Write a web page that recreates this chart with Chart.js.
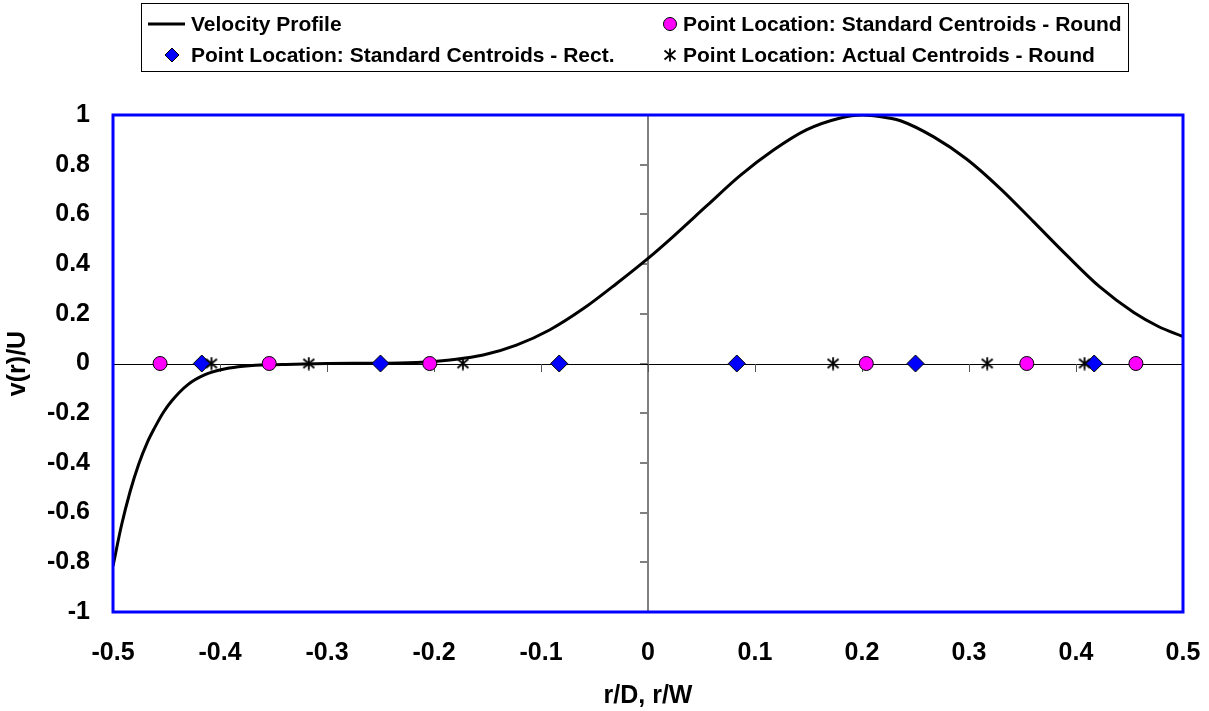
<!DOCTYPE html>
<html>
<head>
<meta charset="utf-8">
<script src="https://cdn.jsdelivr.net/npm/chart.js@4/dist/chart.umd.min.js"></script>
<style>
  html, body { margin: 0; padding: 0; background: #fff; }
  #wrap { width: 1209px; height: 711px; }
</style>
</head>
<body>
<div id="wrap"><canvas id="chart"></canvas></div>
<script>
// velocity profile
const profileR = [-0.5, -0.492, -0.484, -0.476, -0.468, -0.461, -0.453, -0.445, -0.43, -0.414, -0.398, -0.383, -0.367,
  -0.33, -0.3, -0.27, -0.232, -0.2, -0.185, -0.154, -0.123, -0.092, -0.06, -0.029, 0, 0.024, 0.055, 0.086,
  0.117, 0.148, 0.179, 0.2, 0.226, 0.236, 0.267, 0.298, 0.329, 0.36, 0.391, 0.422, 0.454, 0.477, 0.5];
const profileV = [-0.815, -0.65, -0.515, -0.405, -0.318, -0.258, -0.197, -0.15, -0.085, -0.045, -0.024, -0.013, -0.007,
  -0.003, 0, 0.001, 0.002, 0.008, 0.014, 0.034, 0.074, 0.135, 0.222, 0.323, 0.423, 0.513, 0.635, 0.756,
  0.858, 0.94, 0.987, 1.0, 0.987, 0.977, 0.912, 0.822, 0.705, 0.572, 0.437, 0.309, 0.205, 0.149, 0.108];

const stdRoundR = [-0.456, -0.354, -0.204, 0.204, 0.354, 0.456];
const stdRectR = [-0.417, -0.25, -0.083, 0.083, 0.25, 0.417];
const actualRoundR = [-0.408, -0.317, -0.173, 0.173, 0.317, 0.408];
const markerV = [0, 0, 0, 0, 0, 0];

const seriesNames = [
  'Velocity Profile',
  'Point Location: Standard Centroids - Round',
  'Point Location: Standard Centroids - Rect.',
  'Point Location: Actual Centroids - Round'
];

const xTicks = [-0.5, -0.4, -0.3, -0.2, -0.1, 0, 0.1, 0.2, 0.3, 0.4, 0.5];
const xTickLabels = ['-0.5', '-0.4', '-0.3', '-0.2', '-0.1', '0', '0.1', '0.2', '0.3', '0.4', '0.5'];
const yTicks = [-1, -0.8, -0.6, -0.4, -0.2, 0, 0.2, 0.4, 0.6, 0.8, 1];
const yTickLabels = ['-1', '-0.8', '-0.6', '-0.4', '-0.2', '0', '0.2', '0.4', '0.6', '0.8', '1'];

const FONT = '"Liberation Sans", Arial, sans-serif';

const toPts = (xs, ys) => xs.map((v, i) => ({ x: v, y: ys[i] }));

// asterisk marker: an X with a vertical stroke
function makeAsterisk(size) {
  const c = document.createElement('canvas');
  c.width = size; c.height = size;
  const g = c.getContext('2d');
  g.strokeStyle = '#000';
  g.lineWidth = 1.8;
  g.beginPath();
  g.moveTo(1.5, 2.5); g.lineTo(size - 1.5, size - 2.5);
  g.moveTo(size - 1.5, 2.5); g.lineTo(1.5, size - 2.5);
  g.moveTo(size / 2, 0.5); g.lineTo(size / 2, size - 0.5);
  g.stroke();
  return c;
}
const asterisk = makeAsterisk(14);

const decor = {
  id: 'decor',
  beforeDatasetsDraw(chart) {
    const { ctx, chartArea: a, scales: { x, y } } = chart;
    const x0 = Math.round(x.getPixelForValue(0));
    const y0 = Math.round(y.getPixelForValue(0));
    ctx.save();
    // vertical axis through zero
    ctx.strokeStyle = '#7f7f7f';
    ctx.lineWidth = 2;
    ctx.beginPath();
    ctx.moveTo(x0, a.top); ctx.lineTo(x0, a.bottom);
    yTicks.forEach(v => {
      const py = Math.round(y.getPixelForValue(v));
      ctx.moveTo(x0 - 8, py); ctx.lineTo(x0, py);
    });
    ctx.stroke();
    // horizontal axis through zero
    ctx.strokeStyle = '#000';
    ctx.lineWidth = 1;
    ctx.beginPath();
    ctx.moveTo(a.left, y0 + 0.5); ctx.lineTo(a.right, y0 + 0.5);
    ctx.stroke();
    ctx.strokeStyle = '#555';
    ctx.beginPath();
    xTicks.forEach(v => {
      const px = Math.round(x.getPixelForValue(v)) + 0.5;
      ctx.moveTo(px, y0); ctx.lineTo(px, y0 + 8);
    });
    ctx.stroke();
    ctx.restore();
  },
  afterDraw(chart) {
    const { ctx, chartArea: a } = chart;
    ctx.save();
    // blue plot border
    ctx.strokeStyle = '#0000ff';
    ctx.lineWidth = 3;
    ctx.strokeRect(a.left, a.top, a.right - a.left, a.bottom - a.top);

    // legend box
    ctx.strokeStyle = '#000';
    ctx.lineWidth = 1;
    ctx.strokeRect(141.5, 3.5, 987, 68);
    ctx.font = 'bold 21px ' + FONT;
    ctx.fillStyle = '#000';
    ctx.textBaseline = 'middle';
    ctx.textAlign = 'left';
    const r1 = 24, r2 = 55;
    // velocity line
    ctx.lineWidth = 3;
    ctx.beginPath(); ctx.moveTo(148, r1); ctx.lineTo(185, r1); ctx.stroke();
    ctx.fillText(seriesNames[0], 191, r1 + 1);
    // round circle
    ctx.lineWidth = 1;
    ctx.fillStyle = '#ff00ff';
    ctx.beginPath(); ctx.arc(670, r1, 6.5, 0, Math.PI * 2); ctx.fill(); ctx.stroke();
    ctx.fillStyle = '#000';
    ctx.fillText(seriesNames[1], 683, r1 + 1);
    // rect diamond
    ctx.fillStyle = '#0000ff';
    ctx.beginPath();
    ctx.moveTo(172, r2 - 7); ctx.lineTo(179, r2); ctx.lineTo(172, r2 + 7); ctx.lineTo(165, r2); ctx.closePath();
    ctx.fill(); ctx.stroke();
    ctx.fillStyle = '#000';
    ctx.fillText(seriesNames[2], 191, r2 + 1);
    // asterisk
    ctx.drawImage(asterisk, 670 - 7, r2 - 7);
    ctx.fillText(seriesNames[3], 683, r2 + 1);
    ctx.restore();
  }
};

new Chart(document.getElementById('chart'), {
  type: 'scatter',
  data: {
    datasets: [
      {
        label: seriesNames[0],
        data: toPts(profileR, profileV),
        showLine: true,
        borderColor: '#000',
        borderWidth: 3,
        pointRadius: 0,
        cubicInterpolationMode: 'monotone',
        order: 5
      },
      {
        label: seriesNames[1],
        data: toPts(stdRoundR, markerV),
        pointStyle: 'circle',
        pointRadius: 7,
        backgroundColor: '#ff00ff',
        borderColor: '#000',
        borderWidth: 1,
        order: 1
      },
      {
        label: seriesNames[2],
        data: toPts(stdRectR, markerV),
        pointStyle: 'rectRot',
        pointRadius: 8.5,
        backgroundColor: '#0000ff',
        borderColor: '#000',
        borderWidth: 1,
        order: 1
      },
      {
        label: seriesNames[3],
        data: toPts(actualRoundR, markerV),
        pointStyle: asterisk,
        pointRadius: 7,
        borderColor: '#000',
        order: 0
      }
    ]
  },
  options: {
    responsive: true,
    maintainAspectRatio: false,
    animation: false,
    events: [],
    layout: { padding: { top: 115, right: 26, left: 0, bottom: 0 } },
    plugins: { legend: { display: false }, tooltip: { enabled: false } },
    scales: {
      x: {
        type: 'linear',
        min: -0.5,
        max: 0.5,
        afterBuildTicks: s => { s.ticks = xTicks.map(v => ({ value: v })); },
        afterFit: s => { s.height = 99; s.paddingLeft = 0; s.paddingRight = 0; },
        grid: { display: false, drawTicks: false },
        border: { display: false },
        ticks: {
          padding: 26,
          maxRotation: 0,
          autoSkip: false,
          color: '#000',
          font: { family: FONT, size: 25, weight: 'bold' },
          callback: (v) => xTickLabels[xTicks.findIndex(t => Math.abs(t - v) < 1e-9)]
        },
        title: {
          display: true,
          text: 'r/D, r/W',
          color: '#000',
          font: { family: FONT, size: 25, weight: 'bold' },
          padding: { top: 0, bottom: 0 }
        }
      },
      y: {
        type: 'linear',
        min: -1,
        max: 1,
        afterBuildTicks: s => { s.ticks = yTicks.map(v => ({ value: v })); },
        afterFit: s => { s.width = 113; s.paddingTop = 0; s.paddingBottom = 0; },
        grid: { display: false, drawTicks: false },
        border: { display: false },
        ticks: {
          padding: 23,
          autoSkip: false,
          color: '#000',
          font: { family: FONT, size: 25, weight: 'bold' },
          callback: (v) => yTickLabels[yTicks.findIndex(t => Math.abs(t - v) < 1e-9)]
        },
        title: {
          display: true,
          text: 'v(r)/U',
          color: '#000',
          font: { family: FONT, size: 25, weight: 'bold' },
          padding: { top: 3, bottom: 0 }
        }
      }
    }
  },
  plugins: [decor]
});
</script>
</body>
</html>
